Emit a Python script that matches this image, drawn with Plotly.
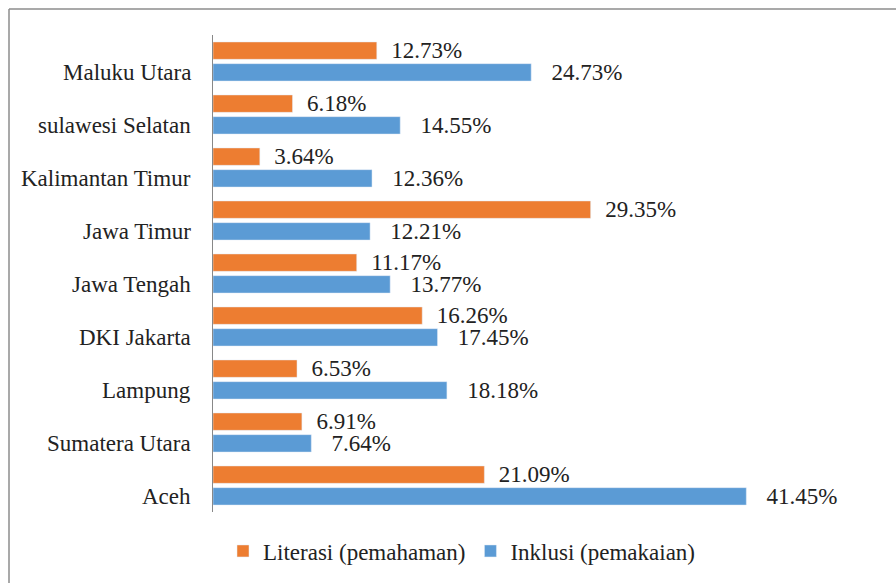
import plotly.graph_objects as go

categories = ["Aceh", "Sumatera Utara", "Lampung", "DKI Jakarta", "Jawa Tengah",
              "Jawa Timur", "Kalimantan Timur", "sulawesi Selatan", "Maluku Utara"]
literasi = [21.09, 6.91, 6.53, 16.26, 11.17, 29.35, 3.64, 6.18, 12.73]
inklusi = [41.45, 7.64, 18.18, 17.45, 13.77, 12.21, 12.36, 14.55, 24.73]
series_names = ["Literasi (pemahaman)", "Inklusi (pemakaian)"]

W, H = 896, 583
ML, MR, MT, MB = 213, 104, 35, 71
FONT = "Times New Roman"

fig = go.Figure()
# Inklusi first so it sits below Literasi in each horizontal group
fig.add_trace(go.Bar(
    y=categories, x=inklusi, orientation="h", name=series_names[1],
    marker=dict(color="#5B9BD5"),
    text=[f"   {v:.2f}%" for v in inklusi], textposition="outside",
    constraintext="none", cliponaxis=False,
    textfont=dict(family=FONT, size=23, color="#222222"),
))
fig.add_trace(go.Bar(
    y=categories, x=literasi, orientation="h", name=series_names[0],
    marker=dict(color="#ED7D31"),
    text=[f"  {v:.2f}%" for v in literasi], textposition="outside",
    constraintext="none", cliponaxis=False,
    textfont=dict(family=FONT, size=23, color="#222222"),
))

pw = W - ML - MR
ph = H - MT - MB
bx0 = (9 - ML) / pw
by1 = (H - MB - 9) / ph

# category labels aligned with the lower (blue) bar of each pair
annotations = [
    dict(text=c, x=0, xref="paper", y=c, yref="y", xanchor="right", yanchor="middle",
         xshift=-20, yshift=-11, showarrow=False,
         font=dict(family=FONT, size=23, color="#222222"))
    for c in categories
]

fig.update_layout(
    width=W, height=H,
    margin=dict(l=ML, r=MR, t=MT, b=MB, autoexpand=False),
    barmode="group", bargap=0.18, bargroupgap=0.2,
    paper_bgcolor="white", plot_bgcolor="white",
    font=dict(family=FONT, size=22, color="#222222"),
    showlegend=True,
    legend=dict(orientation="h", x=(462 - ML) / pw, xanchor="center",
                y=-(551 - (H - MB)) / ph, yanchor="middle",
                traceorder="reversed", font=dict(family=FONT, size=23),
                itemwidth=30),
    xaxis=dict(range=[0, 45], showgrid=False, showticklabels=False,
               zeroline=False, showline=False, ticks=""),
    yaxis=dict(showgrid=False, showline=True, linecolor="#888888", linewidth=1,
               ticks="", showticklabels=False),
    annotations=annotations,
    shapes=[
        dict(type="line", xref="paper", yref="paper", x0=bx0, x1=2, y0=by1, y1=by1,
             line=dict(color="#8c8c8c", width=1.5)),
        dict(type="line", xref="paper", yref="paper", x0=bx0, x1=bx0, y0=-1, y1=by1,
             line=dict(color="#8c8c8c", width=1.5)),
    ],
)

fig.write_html("out.html", config={"displayModeBar": False},
               post_script="document.body.style.margin='0';")
